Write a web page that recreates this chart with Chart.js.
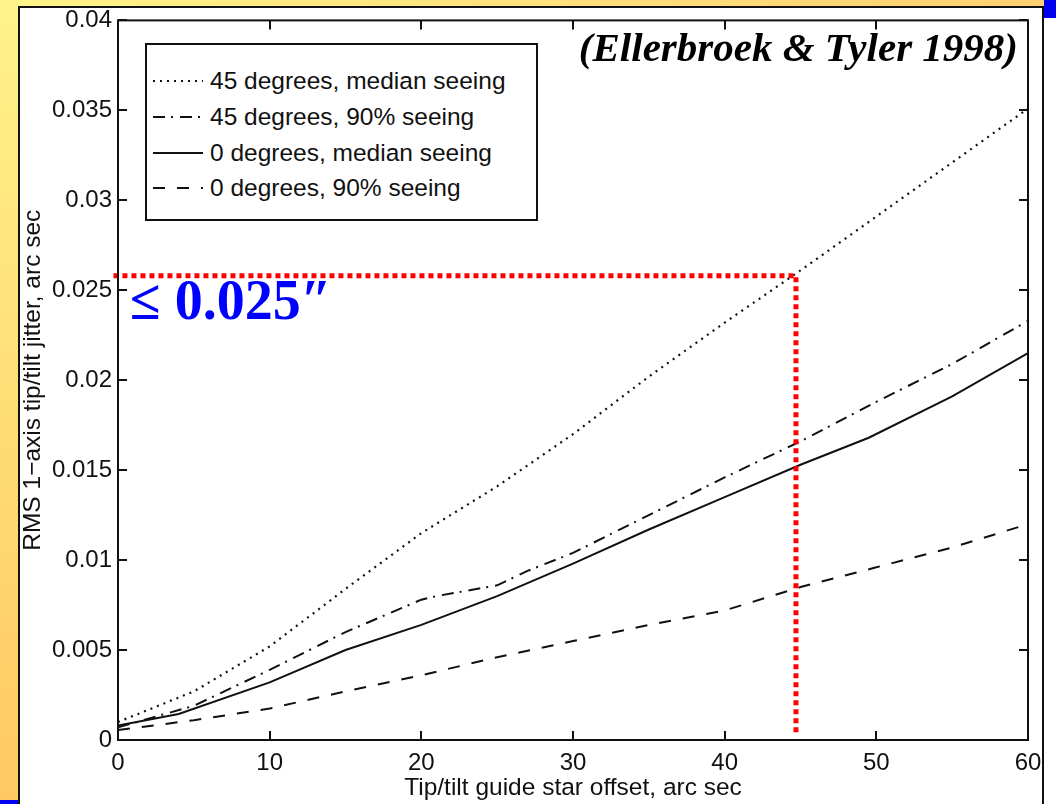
<!DOCTYPE html>
<html>
<head>
<meta charset="utf-8">
<script src="https://cdn.jsdelivr.net/npm/chart.js@4/dist/chart.umd.min.js"></script>
<style>
  body { margin: 0; width: 1056px; height: 804px; overflow: hidden; background: #fff; position: relative; }
  .strip-left { position: absolute; left: 0; top: 0; width: 18px; height: 804px; background: linear-gradient(#fff38a, #ffc862); }
  .strip-top { position: absolute; left: 0; top: 0; width: 1056px; height: 6px; background: linear-gradient(90deg, #fff38a, #ffd070); }
  .line-left { position: absolute; left: 18px; top: 6px; width: 2px; height: 798px; background: #111; }
  .line-top { position: absolute; left: 18px; top: 6px; width: 1026px; height: 2px; background: #111; }
  .line-right { position: absolute; left: 1042px; top: 6px; width: 2px; height: 798px; background: #111; }
  .blue-corner { position: absolute; left: 1044px; top: 0; width: 12px; height: 18px; background: #0000ee; }
  .blue-bottom { position: absolute; left: 0; top: 800px; width: 18px; height: 4px; background: #0000ee; }
  #chart { position: absolute; left: 0; top: 0; }
  .legend { position: absolute; left: 145px; top: 43px; width: 389px; height: 174px; border: 2px solid #111; background: #fff;
            font-family: "Liberation Sans", Arial, sans-serif; font-size: 24.5px; color: #111; }
  .legend .row { position: absolute; left: 6px; height: 30px; display: flex; align-items: center; white-space: nowrap; }
  .legend svg { width: 50px; height: 10px; margin-right: 7px; }
  .cite { position: absolute; right: 38px; top: 27px; font-family: "Liberation Serif", "Times New Roman", serif;
          font-weight: bold; font-style: italic; font-size: 41px; line-height: 1; color: #000; white-space: nowrap; }
  .limit { position: absolute; left: 130px; top: 272px; font-family: "Liberation Serif", "Times New Roman", serif;
           font-weight: bold; font-size: 56px; line-height: 1; color: #0000ff; white-space: nowrap; }
</style>
</head>
<body>
<div class="strip-left"></div>
<div class="strip-top"></div>
<div class="line-left"></div>
<div class="line-top"></div>
<div class="line-right"></div>
<div class="blue-corner"></div>
<div class="blue-bottom"></div>
<canvas id="chart" width="1056" height="804"></canvas>
<div class="legend" id="legend"></div>
<div class="cite">(Ellerbroek &amp; Tyler 1998)</div>
<div class="limit">≤ 0.025″</div>

<script>
// data (offset in arc sec, jitter in arc sec)
const offsets45Median = [0, 5, 10, 15, 20, 25, 30, 35, 40, 45, 50, 55, 60];
const jitter45Median  = [0.0010, 0.0027, 0.0052, 0.0084, 0.0115, 0.0141, 0.0170, 0.0202, 0.0232, 0.0261, 0.0291, 0.0321, 0.0351];

const offsets45Bad = [0, 5, 10, 15, 20, 21, 23, 25, 27, 30, 35, 40, 45, 50, 55, 60];
const jitter45Bad  = [0.0007, 0.0019, 0.0039, 0.0060, 0.0078, 0.0080, 0.0083, 0.0086, 0.0094, 0.0104, 0.0125, 0.0146, 0.0166, 0.0188, 0.0209, 0.0233];

const offsets0Median = [0, 4, 10, 15, 20, 25, 30, 35, 40, 45, 49.5, 55, 60];
const jitter0Median  = [0.0008, 0.00145, 0.0032, 0.0050, 0.0064, 0.0080, 0.0098, 0.0117, 0.0135, 0.0153, 0.0168, 0.0191, 0.0215];

const offsets0Bad = [0, 5, 10, 15, 20, 25, 30, 35, 40, 45, 50, 55, 60];
const jitter0Bad  = [0.00055, 0.0011, 0.00175, 0.0027, 0.0036, 0.0046, 0.0055, 0.0064, 0.0072, 0.0085, 0.0096, 0.0107, 0.0120];

// red guide lines (offset 44.7", jitter 0.0258")
const guideX = [-0.3, 44.7, 44.7];
const guideY = [0.0258, 0.0258, 0.0004];

const seriesLabels = ['45 degrees, median seeing', '45 degrees, 90% seeing', '0 degrees, median seeing', '0 degrees, 90% seeing'];
const seriesDash = [[2, 5], [12, 6, 2, 7], [], [12, 12]];

const xTickLabels = ['0', '10', '20', '30', '40', '50', '60'];
const yTickLabels = ['0', '0.005', '0.01', '0.015', '0.02', '0.025', '0.03', '0.035', '0.04'];

const ink = '#111';
const sans = '"Liberation Sans", Arial, sans-serif';

function pts(xs, ys) {
    return xs.map((x, i) => ({ x: x, y: ys[i] }));
}

// box frame with inward ticks on all four sides, matlab style
const framePlugin = {
    id: 'frame',
    afterDraw(chart) {
        const ctx = chart.ctx;
        const a = chart.chartArea;
        const xs = chart.scales.x, ys = chart.scales.y;
        ctx.save();
        ctx.strokeStyle = ink;
        ctx.lineWidth = 2;
        ctx.strokeRect(a.left, a.top, a.right - a.left, a.bottom - a.top);
        ctx.beginPath();
        xs.ticks.forEach(t => {
            const px = Math.round(xs.getPixelForValue(t.value));
            ctx.moveTo(px, a.bottom); ctx.lineTo(px, a.bottom - 9);
            ctx.moveTo(px, a.top); ctx.lineTo(px, a.top + 9);
        });
        ys.ticks.forEach(t => {
            const py = Math.round(ys.getPixelForValue(t.value));
            ctx.moveTo(a.left, py); ctx.lineTo(a.left + 9, py);
            ctx.moveTo(a.right, py); ctx.lineTo(a.right - 9, py);
        });
        ctx.stroke();
        ctx.restore();
    }
};

const datasets = [
    {
        label: 'guide',
        data: pts(guideX, guideY),
        borderColor: '#ff0000',
        borderWidth: 5,
        borderDash: [5, 4],
        pointRadius: 0,
        clip: false,
        order: 0
    }
];
const seriesData = [
    pts(offsets45Median, jitter45Median),
    pts(offsets45Bad, jitter45Bad),
    pts(offsets0Median, jitter0Median),
    pts(offsets0Bad, jitter0Bad)
];
seriesData.forEach((d, i) => {
    datasets.push({
        label: seriesLabels[i],
        data: d,
        borderColor: ink,
        borderWidth: i === 0 ? 2.2 : 2,
        borderDash: seriesDash[i],
        pointRadius: 0,
        order: 1
    });
});

new Chart(document.getElementById('chart'), {
    type: 'line',
    data: { datasets: datasets },
    options: {
        responsive: false,
        animation: false,
        devicePixelRatio: 1,
        layout: { padding: { top: 17, right: 28, bottom: 0, left: 0 } },
        plugins: { legend: { display: false }, tooltip: { enabled: false } },
        scales: {
            x: {
                type: 'linear',
                min: 0, max: 60,
                afterFit: s => { s.height = 64; },
                afterBuildTicks: s => { s.ticks = xTickLabels.map(v => ({ value: +v })); },
                ticks: {
                    color: ink, padding: 9,
                    font: { family: sans, size: 24 },
                    callback: (v, i) => xTickLabels[i]
                },
                grid: { display: false, drawTicks: false },
                border: { display: false },
                title: {
                    display: true,
                    text: 'Tip/tilt guide star offset, arc sec',
                    color: ink,
                    font: { family: sans, size: 24.5 },
                    padding: { bottom: 1 }
                }
            },
            y: {
                type: 'linear',
                min: 0, max: 0.04,
                afterFit: s => { s.width = 118; },
                afterBuildTicks: s => { s.ticks = yTickLabels.map(v => ({ value: +v })); },
                ticks: {
                    color: ink, padding: 6,
                    font: { family: sans, size: 24 },
                    callback: (v, i) => yTickLabels[i]
                },
                grid: { display: false, drawTicks: false },
                border: { display: false },
                title: {
                    display: true,
                    text: 'RMS 1−axis tip/tilt jitter, arc sec',
                    color: ink,
                    font: { family: sans, size: 24.5 },
                    padding: { top: 19 }
                }
            }
        }
    },
    plugins: [framePlugin]
});

// legend box with line samples
const legend = document.getElementById('legend');
const rowCenters = [36, 72, 108, 143];
seriesLabels.forEach((label, i) => {
    const row = document.createElement('div');
    row.className = 'row';
    row.style.top = (rowCenters[i] - 15) + 'px';
    const dash = seriesDash[i].length ? seriesDash[i].join(' ') : 'none';
    row.innerHTML = '<svg viewBox="0 0 50 10"><line x1="0" y1="5" x2="50" y2="5" stroke="' + ink +
        '" stroke-width="2" stroke-dasharray="' + dash + '"/></svg><span>' + label + '</span>';
    legend.appendChild(row);
});
</script>
</body>
</html>
